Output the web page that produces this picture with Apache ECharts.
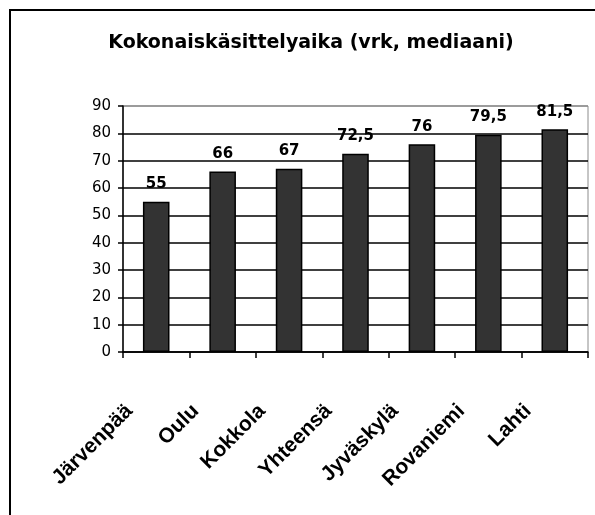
<!DOCTYPE html>
<html>
<head>
<meta charset="utf-8">
<script src="https://cdn.jsdelivr.net/npm/echarts@6/dist/echarts.min.js"></script>
<style>
html,body{margin:0;padding:0;background:#fff;}
#chart{width:595px;height:515px;}
</style>
</head>
<body>
<div id="chart"></div>
<script>
var titleText = 'Kokonaiskäsittelyaika (vrk, mediaani)';
var categories = ['Järvenpää', 'Oulu', 'Kokkola', 'Yhteensä', 'Jyväskylä', 'Rovaniemi', 'Lahti'];
var values = [55, 66, 67, 72.5, 76, 79.5, 81.5];
var yTicks = [0, 10, 20, 30, 40, 50, 60, 70, 80, 90];

var splitColors = yTicks.map(function (v, i) { return i === yTicks.length - 1 ? '#8c8c8c' : '#000'; });

var chart = echarts.init(document.getElementById('chart'), null, {renderer: 'canvas'});
chart.setOption({
  animation: false,
  backgroundColor: '#fff',
  graphic: [{
    type: 'rect',
    shape: {x: 10, y: 10, width: 620, height: 540},
    style: {fill: 'none', stroke: '#000', lineWidth: 2},
    silent: true
  }],
  title: {
    text: titleText,
    left: 306,
    top: 29,
    textAlign: 'center',
    textStyle: {fontFamily: 'DejaVu Sans', fontWeight: 'bold', fontSize: 19, color: '#000'}
  },
  grid: {
    left: 123, right: 7, top: 106, bottom: 163,
    show: true, borderColor: '#8c8c8c', borderWidth: 1, backgroundColor: 'transparent'
  },
  xAxis: {
    type: 'category',
    data: categories,
    boundaryGap: true,
    axisLine: {show: true, lineStyle: {color: '#000', width: 1.5}},
    axisTick: {show: true, alignWithLabel: false, length: 6, lineStyle: {color: '#000', width: 1.5}},
    axisLabel: {
      interval: 0,
      rotate: 45,
      margin: 29,
      padding: [0, 38, 0, 0],
      fontFamily: 'Liberation Sans',
      fontWeight: 'bold',
      fontSize: 21,
      color: '#000'
    }
  },
  yAxis: {
    type: 'value',
    min: 0, max: 90, interval: 10,
    axisLine: {show: true, lineStyle: {color: '#000', width: 1.5}},
    axisTick: {show: true, inside: false, length: 5, lineStyle: {color: '#000', width: 1.5}},
    axisLabel: {margin: 12, fontFamily: 'DejaVu Sans', fontSize: 15, color: '#000'},
    splitLine: {show: true, lineStyle: {color: splitColors, width: 1.5}}
  },
  series: [{
    type: 'bar',
    data: values,
    barWidth: '40%',
    itemStyle: {color: '#333333', borderColor: '#000', borderWidth: 1.5},
    label: {
      show: true,
      position: 'top',
      distance: 10,
      fontFamily: 'DejaVu Sans',
      fontWeight: 'bold',
      fontSize: 15,
      color: '#000',
      formatter: function (p) { return String(p.value).replace('.', ','); }
    }
  }]
});
</script>
</body>
</html>
